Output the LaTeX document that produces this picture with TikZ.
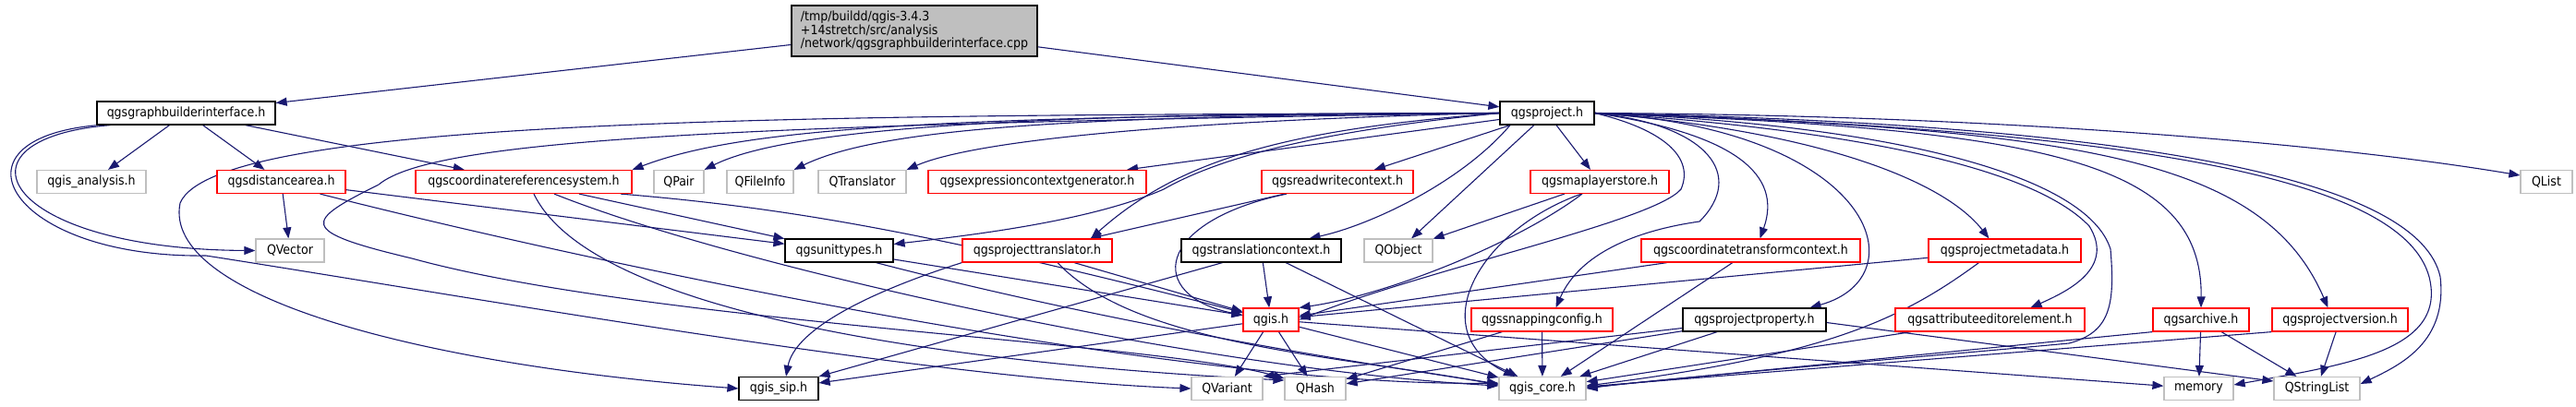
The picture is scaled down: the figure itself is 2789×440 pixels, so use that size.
\documentclass[tikz,border=0pt]{standalone}
\usepackage{fontspec}
\setmainfont{DejaVu Sans Condensed}
\usetikzlibrary{arrows.meta,backgrounds}
\definecolor{edgeblue}{HTML}{191970}
\definecolor{extgray}{HTML}{BFBFBF}
\definecolor{truncred}{HTML}{FF0000}
\tikzset{
  every node/.style={font=\fontsize{14}{14.5}\selectfont},
  hdr/.style={draw=black, line width=1.2pt, fill=white, minimum height=25pt, inner sep=0pt},
  trunc/.style={hdr, draw=truncred},
  ext/.style={hdr, draw=extgray},
  srcfile/.style={hdr, fill=extgray, align=left, minimum height=55pt},
  dep/.style={-{Triangle[length=12pt, width=9pt]}, draw=edgeblue, line width=1.1pt},
}

\begin{document}
\begin{tikzpicture}[x=1pt, y=-1pt]
\useasboundingbox (0,0) rectangle (2789,440);

\node[srcfile, minimum width=266pt] (src) at (990,33.5) {/tmp/buildd/qgis-3.4.3\\+14stretch/src/analysis\\/network/qgsgraphbuilderinterface.cpp};

\node[hdr, minimum width=193pt] (gbi) at (201.5,122.5) {qgsgraphbuilderinterface.h};
\node[hdr, minimum width=102pt] (project) at (1675,122.5) {qgsproject.h};

\node[ext, minimum width=118pt] (analysis) at (99,197) {qgis\_analysis.h};
\node[trunc, minimum width=139pt] (distarea) at (304.5,197) {qgsdistancearea.h};
\node[trunc, minimum width=234pt] (crs) at (567,197) {qgscoordinatereferencesystem.h};
\node[ext, minimum width=54pt] (qpair) at (735,197) {QPair};
\node[ext, minimum width=72pt] (qfileinfo) at (823,197) {QFileInfo};
\node[ext, minimum width=95pt] (qtranslator) at (933.5,197) {QTranslator};
\node[trunc, minimum width=236pt] (exprgen) at (1123,197) {qgsexpressioncontextgenerator.h};
\node[trunc, minimum width=164pt] (rwctx) at (1448,197) {qgsreadwritecontext.h};
\node[trunc, minimum width=150pt] (layerstore) at (1732,197) {qgsmaplayerstore.h};
\node[ext, minimum width=56pt] (qlist) at (2757,197) {QList};

\node[ext, minimum width=74pt] (qvector) at (314,271.5) {QVector};
\node[hdr, minimum width=117pt] (unittypes) at (908.5,271.5) {qgsunittypes.h};
\node[trunc, minimum width=162pt] (projtrans) at (1123,271.5) {qgsprojecttranslator.h};
\node[hdr, minimum width=173pt] (transctx) at (1365.5,271.5) {qgstranslationcontext.h};
\node[ext, minimum width=74pt] (qobject) at (1514,271.5) {QObject};
\node[trunc, minimum width=237pt] (ctc) at (1895.5,271.5) {qgscoordinatetransformcontext.h};
\node[trunc, minimum width=165pt] (projmeta) at (2170.5,271.5) {qgsprojectmetadata.h};

\node[trunc, minimum width=60pt] (qgish) at (1376,346.5) {qgis.h};
\node[trunc, minimum width=153pt] (snapcfg) at (1669.5,346.5) {qgssnappingconfig.h};
\node[hdr, minimum width=155pt] (projprop) at (1899.5,346.5) {qgsprojectproperty.h};
\node[trunc, minimum width=205pt] (attredit) at (2154.5,346.5) {qgsattributeeditorelement.h};
\node[trunc, minimum width=104pt] (archive) at (2383,346.5) {qgsarchive.h};
\node[trunc, minimum width=147pt] (projver) at (2533.5,346.5) {qgsprojectversion.h};

\node[hdr, minimum width=86pt] (qgissip) at (843,421) {qgis\_sip.h};
\node[ext, minimum width=77pt] (qvariant) at (1328.5,421) {QVariant};
\node[ext, minimum width=66pt] (qhash) at (1424,421) {QHash};
\node[ext, minimum width=94pt] (qgiscore) at (1670,421) {qgis\_core.h};
\node[ext, minimum width=75pt] (memory) at (2380.5,421) {memory};
\node[ext, minimum width=93pt] (qstringlist) at (2508.5,421) {QStringList};

\begin{scope}[on background layer]
\fill[white] (0,0) rectangle (2789,440);

\draw[dep] (src) -- (gbi);
\draw[dep] (src) -- (project);

\draw[dep] (gbi) -- (analysis);
\draw[dep] (gbi) -- (distarea);
\draw[dep] (gbi) -- (crs);
\draw[dep] ([xshift=-82pt]gbi.south) .. controls (-60,150) and (0,270) .. (qvector.west);
\draw[dep] ([xshift=-95pt]gbi.south) .. controls (-65,150) and (10,280) .. (223,277) .. controls (500,320) and (1000,410) .. (qvariant.west);

\draw[dep] (distarea) -- (qvector);
\draw[dep] (distarea) -- (unittypes);
\draw[dep] ([xshift=42pt]distarea.south) .. controls (700,300) and (1300,420) .. ([yshift=6pt]qgiscore.west);

\draw[dep] (crs) -- (unittypes);
\draw[dep] ([xshift=105pt]crs.south) .. controls (850,225) and (1000,250) .. (qgish);
\draw[dep] ([xshift=11pt]crs.south) .. controls (650,360) and (1150,400) .. ([yshift=9pt]qhash.west);
\draw[dep] ([xshift=33pt]crs.south) .. controls (800,290) and (1300,400) .. ([yshift=3pt]qgiscore.west);

\draw[dep] (project.west) .. controls (1000,125) and (800,140) .. (crs.north east);
\draw[dep] (project.west) .. controls (1100,122) and (850,140) .. (qpair.north east);
\draw[dep] (project.west) .. controls (1150,125) and (950,140) .. (qfileinfo.north east);
\draw[dep] (project.west) .. controls (1300,130) and (1060,150) .. (qtranslator.north east);
\draw[dep] (project) -- (exprgen);
\draw[dep] (project) -- (rwctx);
\draw[dep] (project) -- (layerstore);
\draw[dep] (project) -- (qobject);
\draw[dep] (project.west) .. controls (1450,140) and (1330,165) .. (1260,205) .. controls (1180,240) and (1050,255) .. ([yshift=7pt]unittypes.east);
\draw[dep] (project.west) .. controls (1400,140) and (1280,170) .. ([xshift=58pt]projtrans.north);
\draw[dep] ([xshift=-40pt]project.south) .. controls (1580,200) and (1480,245) .. ([xshift=52pt]transctx.north);
\draw[dep] (project.west) .. controls (900,125) and (235,125) .. (195,220) .. controls (175,320) and (450,395) .. (qgissip.west);
\draw[dep] (project.west) .. controls (800,135) and (470,150) .. (410,200) .. controls (330,240) and (320,250) .. (446,280) .. controls (700,350) and (1250,370) .. ([yshift=11pt]qhash.west);
\draw[dep] (project.east) .. controls (1800,140) and (1835,170) .. (1820,205) .. controls (1790,240) and (1550,290) .. (qgish.east);
\draw[dep] (project.east) .. controls (1850,135) and (1890,190) .. (1840,240) .. controls (1770,250) and (1710,275) .. ([xshift=15pt]snapcfg.north);
\draw[dep] (project.east) .. controls (1880,145) and (1930,190) .. ([xshift=10pt]ctc.north);
\draw[dep] (project.east) .. controls (2030,140) and (2080,300) .. ([xshift=60pt]projprop.north);
\draw[dep] (project.east) .. controls (1950,140) and (2100,190) .. ([xshift=-17pt]projmeta.north);
\draw[dep] (project.east) .. controls (2000,140) and (2200,180) .. (2262,245) .. controls (2290,290) and (2240,315) .. ([xshift=44pt]attredit.north);
\draw[dep] (project.east) .. controls (2050,135) and (2260,190) .. (2285,270) .. controls (2290,330) and (2285,360) .. (2240,372) .. controls (2100,385) and (1800,410) .. (qgiscore.east);
\draw[dep] (project.east) .. controls (2200,140) and (2385,170) .. (archive.north);
\draw[dep] (project.east) .. controls (2250,140) and (2450,170) .. ([xshift=-13pt]projver.north);
\draw[dep] (project.east) .. controls (2300,140) and (2600,190) .. (2630,300) .. controls (2650,380) and (2540,395) .. ([yshift=4pt]memory.east);
\draw[dep] (project.east) .. controls (2350,135) and (2620,200) .. (2642,300) .. controls (2650,370) and (2600,395) .. ([yshift=5pt]qstringlist.east);
\draw[dep] (project.east) .. controls (2200,125) and (2550,160) .. ([yshift=7pt]qlist.west);

\draw[dep] (rwctx) -- (projtrans);
\draw[dep] ([xshift=-55pt]rwctx.south) .. controls (1250,240) and (1240,320) .. ([yshift=5pt]qgish.west);

\draw[dep] (layerstore) -- (qobject);
\draw[dep] ([xshift=-19pt]layerstore.south) .. controls (1640,265) and (1500,320) .. (qgish.north east);
\draw[dep] ([xshift=-20pt]layerstore.south) .. controls (1600,250) and (1540,360) .. ([xshift=-30pt]qgiscore.north);

\draw[dep] (unittypes) -- (qgish);
\draw[dep] ([xshift=40pt]unittypes.south) .. controls (1200,350) and (1450,390) .. ([yshift=5pt]qgiscore.west);

\draw[dep] (projtrans.south west) .. controls (930,320) and (860,360) .. ([xshift=8pt]qgissip.north);
\draw[dep] ([xshift=40pt]projtrans.south) -- (qgish);
\draw[dep] ([xshift=22pt]projtrans.south) .. controls (1230,375) and (1450,385) .. ([yshift=4pt]qgiscore.west);

\draw[dep] (transctx) -- (qgish);
\draw[dep] (transctx) -- (qgiscore);
\draw[dep] ([xshift=-42pt]transctx.south) -- (qgissip.north east);

\draw[dep] (qgish) -- (qvariant);
\draw[dep] (qgish) -- (qhash);
\draw[dep] (qgish) -- (qgiscore);
\draw[dep] (qgish) -- (memory);
\draw[dep] (qgish) -- (qgissip);

\draw[dep] (snapcfg) -- (qgiscore);
\draw[dep] (snapcfg) -- (qhash);

\draw[dep] (projprop) -- (qvariant.north east);
\draw[dep] (projprop) -- (qhash);
\draw[dep] (projprop) -- (qgiscore);
\draw[dep] ([yshift=-3pt]projprop.east) -- ([yshift=8pt]qstringlist.west);

\draw[dep] (ctc) -- (qgish);
\draw[dep] (ctc) -- (qgiscore);

\draw[dep] (projmeta) -- (qgish);
\draw[dep] ([xshift=-28pt]projmeta.south) .. controls (2060,345) and (1980,385) .. ([yshift=3pt]qgiscore.east);

\draw[dep] (attredit) -- (qgiscore);

\draw[dep] (archive) -- (memory);
\draw[dep] (archive) -- (qstringlist);
\draw[dep] (archive.south west) -- ([yshift=1pt]qgiscore.east);

\draw[dep] (projver) -- (qstringlist);
\draw[dep] (projver.south west) -- ([yshift=2pt]qgiscore.east);
\end{scope}

\end{tikzpicture}
\end{document}
